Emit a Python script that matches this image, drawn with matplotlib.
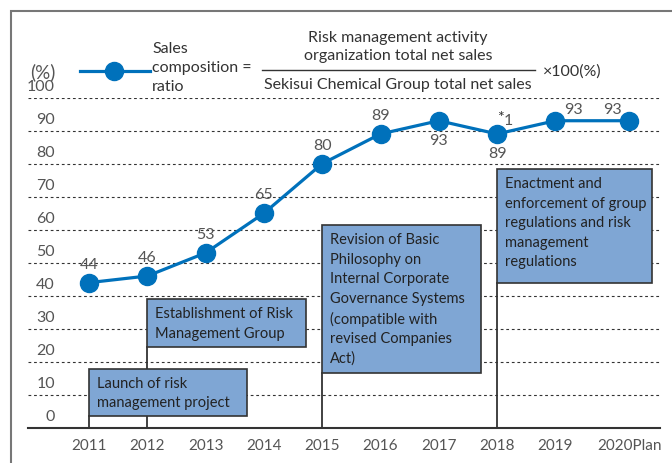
import numpy as np
import matplotlib
matplotlib.use("Agg")
import matplotlib.pyplot as plt
from matplotlib.patches import Rectangle
from matplotlib.lines import Line2D

years = ["2011", "2012", "2013", "2014", "2015", "2016", "2017", "2018", "2019", "2020Plan"]
ratio = [44, 46, 53, 65, 80, 89, 93, 89, 93, 93]
yticks = [0, 10, 20, 30, 40, 50, 60, 70, 80, 90, 100]

events = [
    "Launch of risk\nmanagement project",
    "Establishment of Risk\nManagement Group",
    "Revision of Basic\nPhilosophy on\nInternal Corporate\nGovernance Systems\n(compatible with\nrevised Companies\nAct)",
    "Enactment and\nenforcement of group\nregulations and risk\nmanagement\nregulations",
]
event_year = [0, 1, 4, 7]

plt.rcParams['font.family'] = ['Lato', 'DejaVu Sans']

W, H = 672, 463
BLUE = "#0071bb"
BOXC = "#7fa6d4"
GRAY = "#555555"
DARK = "#333333"
FS = 11.5

fig = plt.figure(figsize=(W / 100, H / 100), dpi=100)


def fx(px):
    return px / W


def fy(py):
    return 1 - py / H


# axes: x index 0 at px 89, step 58.3; y 0 at px 428, 100 at px 97.6
ax = fig.add_axes([fx(28), fy(428), fx(660) - fx(28), fy(97.6) - fy(428)])
ax.set_xlim((28 - 89) / 58.3, (660 - 89) / 58.3)
ax.set_ylim(0, 100)

x = np.arange(len(years), dtype=float)
x[-1] += 0.27  # plan year sits a bit further right

for v in yticks[1:]:
    ax.axhline(v, color=DARK, lw=0.8, ls=(0, (2.5, 2.5)), zorder=1)
lab_x = (55 - 28) / (660 - 28)
for v in yticks:
    ax.text(lab_x, v + 3.2, str(v), transform=ax.get_yaxis_transform(),
            ha="right", va="center", fontsize=FS, color=GRAY)

for s in ["left", "right", "top"]:
    ax.spines[s].set_visible(False)
ax.spines["bottom"].set_color(DARK)
ax.spines["bottom"].set_linewidth(1.5)
ax.set_yticks([])
ax.set_xticks(x)
ax.set_xticklabels(years, fontsize=11, color=GRAY)
ax.tick_params(axis="x", length=0, pad=8)

# event boxes (left, right, bottom, top) in data units
boxes = [(0.0, 2.71, 3.6, 17.9), (1.0, 3.72, 24.6, 39.0),
         (4.0, 6.72, 16.6, 61.4), (7.0, 9.66, 44.0, 78.3)]
zorders = [5, 4, 4, 4]
for i, (l, r, b, t) in enumerate(boxes):
    ax.plot([event_year[i], event_year[i]], [0, b], color=DARK, lw=1.3, zorder=3)
    ax.add_patch(Rectangle((l, b), r - l, t - b, facecolor=BOXC, edgecolor=DARK,
                           lw=1.2, zorder=zorders[i]))
    ax.text(l + 0.13, t - 2.4, events[i], ha="left", va="top", fontsize=10.5,
            color="#222222", linespacing=1.5, zorder=zorders[i] + 1)

ax.plot(x, ratio, color=BLUE, lw=2.3, marker="o", ms=13, zorder=6, clip_on=False)

offsets = [(0, 18), (0, 18), (0, 18), (0, 18), (0, 18), (0, 18),
           (0, -20), (0, -20), (18, 11), (-17, 11)]
for xi, v, (dx, dy) in zip(x, ratio, offsets):
    ax.annotate(str(v), (xi, v), xytext=(dx, dy), textcoords="offset pixels",
                ha="center", va="center", fontsize=FS, color=GRAY, zorder=7)
ax.annotate("*", (x[7], ratio[7]), xytext=(3, 16), textcoords="offset pixels",
            ha="center", va="center", fontsize=FS, color=DARK, zorder=7)
ax.annotate("1", (x[7], ratio[7]), xytext=(11, 13), textcoords="offset pixels",
            ha="center", va="center", fontsize=FS, color=GRAY, zorder=7)

# header / legend
fig.text(fx(43), fy(72), "(%)", ha="center", va="center", fontsize=13.5, color=GRAY)
fig.add_artist(Line2D([fx(80), fx(150)], [fy(71), fy(71)], color=BLUE, lw=2.3))
fig.add_artist(Line2D([fx(114)], [fy(71)], color=BLUE, marker="o", ms=13))
fig.text(fx(152), fy(49), "Sales", ha="left", va="center", fontsize=FS, color=DARK)
fig.text(fx(152), fy(68), "composition =", ha="left", va="center", fontsize=FS, color=DARK)
fig.text(fx(152), fy(87), "ratio", ha="left", va="center", fontsize=FS, color=DARK)
fig.text(fx(398), fy(38), "Risk management activity", ha="center", va="center",
         fontsize=FS, color=DARK)
fig.text(fx(398), fy(56), "organization total net sales", ha="center", va="center",
         fontsize=FS, color=DARK)
fig.add_artist(Line2D([fx(262), fx(535)], [fy(70), fy(70)], color=DARK, lw=1))
fig.text(fx(398), fy(85), "Sekisui Chemical Group total net sales", ha="center",
         va="center", fontsize=FS, color=DARK)
fig.text(fx(543), fy(72), "×100(%)", ha="left", va="center", fontsize=FS, color=DARK)

# outer frame
fig.add_artist(Rectangle((fx(11), -0.1), 1.2, fy(11) + 0.1, transform=fig.transFigure,
                         fill=False, edgecolor="#777777", lw=1.5))

fig.savefig("out.png", dpi=100)
